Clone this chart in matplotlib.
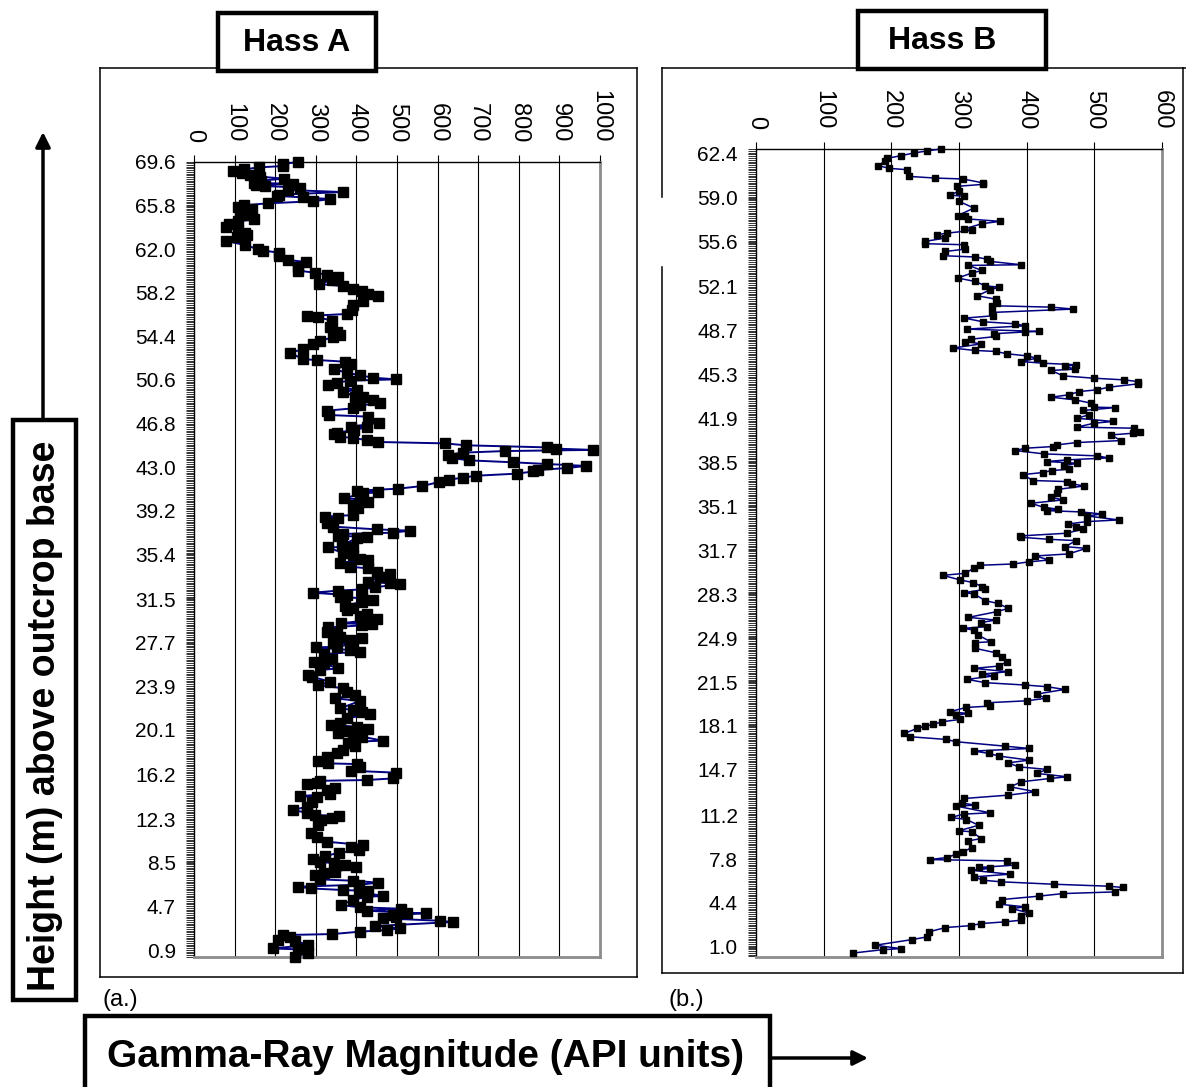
import numpy as np
import matplotlib
matplotlib.use("Agg")
import matplotlib.pyplot as plt
from matplotlib.patches import Rectangle
from matplotlib.ticker import MultipleLocator, FixedLocator

plt.rcParams['font.family'] = ['Liberation Sans', 'DejaVu Sans']

# ---------------- Hass A: height (m) and gamma-ray (API) ----------------
height_a = [
    69.60, 69.43, 69.25, 69.13, 68.96, 68.84, 68.67, 68.50, 68.32, 68.15,
    67.97, 67.80, 67.68, 67.62, 67.51, 67.36, 67.16, 66.98, 66.75, 66.64,
    66.52, 66.37, 66.17, 66.00, 65.82, 65.65, 65.53, 65.30, 65.01, 64.60,
    64.43, 64.19, 63.96, 63.67, 63.38, 63.21, 63.09, 62.71, 62.36, 61.99,
    61.87, 61.70, 61.40, 61.06, 60.88, 60.47, 60.13, 59.95, 59.78, 59.60,
    59.31, 58.96, 58.79, 58.56, 58.32, 58.09, 57.92, 57.51, 57.13, 56.70,
    56.35, 56.17, 56.06, 55.77, 55.24, 54.81, 54.52, 54.31, 54.02, 53.73,
    53.27, 52.98, 52.40, 52.34, 52.19, 51.99, 51.52, 51.23, 51.00, 50.80,
    50.65, 50.54, 50.36, 50.16, 49.72, 49.58, 49.14, 49.08, 48.85, 48.56,
    48.38, 48.12, 47.92, 47.54, 47.40, 46.87, 46.52, 46.47, 46.23, 46.00,
    45.89, 45.65, 45.54, 45.36, 45.19, 45.07, 44.90, 44.72, 44.61, 44.50,
    44.40, 44.26, 44.08, 43.79, 43.59, 43.42, 43.27, 43.10, 42.92, 42.75,
    42.62, 42.43, 42.25, 42.08, 41.90, 41.70, 41.35, 41.12, 40.94, 40.80,
    40.71, 40.28, 40.19, 39.96, 39.70, 39.40, 38.82, 38.68, 38.53, 38.10,
    37.81, 37.57, 37.46, 37.28, 37.17, 36.99, 36.95, 36.79, 36.21, 36.06,
    36.00, 35.48, 35.34, 34.96, 34.90, 34.67, 34.32, 34.17, 33.88, 33.68,
    33.39, 33.01, 32.86, 32.80, 32.52, 32.34, 32.23, 32.05, 31.85, 31.70,
    31.56, 31.41, 31.27, 30.89, 30.68, 30.54, 30.19, 30.02, 29.73, 29.38,
    29.32, 29.20, 29.03, 28.65, 28.51, 28.22, 28.07, 27.92, 27.69, 27.58,
    27.34, 27.28, 27.05, 26.91, 26.70, 26.24, 26.04, 25.89, 25.45, 25.31,
    24.87, 24.73, 24.29, 24.00, 23.71, 23.42, 23.13, 22.84, 22.61, 21.97,
    21.82, 21.68, 21.47, 21.09, 20.72, 20.51, 20.37, 20.13, 20.02, 19.84,
    19.64, 19.50, 19.15, 19.06, 18.91, 18.68, 18.33, 18.10, 17.75, 17.40,
    17.17, 17.11, 16.82, 16.53, 16.36, 15.86, 15.72, 15.65, 15.43, 15.37,
    14.99, 14.85, 14.50, 14.32, 14.21, 13.83, 13.39, 13.10, 12.87, 12.67,
    12.58, 12.37, 12.23, 11.79, 11.13, 10.78, 10.34, 10.05, 9.90, 9.61,
    9.38, 9.09, 8.80, 8.60, 8.45, 8.31, 8.10, 7.73, 7.64, 7.43,
    7.06, 6.94, 6.77, 6.59, 6.42, 6.27, 6.13, 6.05, 5.98, 5.60,
    5.55, 5.26, 4.82, 4.62, 4.50, 4.33, 4.15, 4.10, 3.95, 3.80,
    3.66, 3.45, 3.34, 2.99, 2.79, 2.64, 2.50, 2.29, 2.20, 2.06,
    1.77, 1.70, 1.33, 1.04, 0.95, 0.66, 0.31,
]
gamma_a = [
    257, 220, 220, 159, 124, 95, 117, 139, 163, 222,
    165, 148, 243, 153, 174, 261, 232, 366, 210, 204,
    268, 336, 292, 183, 122, 109, 143, 113, 130, 149,
    109, 85, 79, 109, 126, 130, 105, 80, 126, 158,
    171, 210, 210, 232, 276, 257, 257, 297, 327, 355,
    339, 309, 366, 392, 413, 429, 454, 417, 392, 388,
    376, 278, 306, 339, 335, 351, 360, 343, 310, 294,
    269, 236, 269, 302, 372, 386, 346, 376, 409, 440,
    498, 384, 351, 331, 401, 368, 397, 417, 442, 458,
    409, 391, 327, 333, 429, 456, 386, 425, 394, 351,
    345, 360, 391, 425, 454, 617, 670, 869, 892, 982,
    766, 662, 626, 635, 677, 785, 869, 966, 918, 848,
    836, 795, 695, 662, 627, 604, 562, 503, 401, 454,
    417, 369, 409, 429, 392, 405, 392, 323, 355, 327,
    343, 450, 532, 489, 366, 355, 425, 401, 364, 392,
    331, 368, 392, 409, 429, 360, 384, 429, 450, 483,
    458, 429, 483, 507, 446, 415, 355, 292, 376, 360,
    413, 440, 413, 372, 392, 376, 425, 409, 450, 361,
    438, 415, 331, 327, 351, 360, 413, 384, 343, 392,
    351, 300, 384, 409, 319, 339, 296, 319, 355, 310,
    282, 290, 335, 306, 368, 376, 397, 347, 409, 360,
    392, 413, 433, 376, 360, 337, 401, 429, 376, 355,
    401, 413, 465, 392, 380, 397, 368, 351, 327, 306,
    331, 401, 409, 386, 498, 491, 425, 310, 302, 278,
    347, 327, 335, 261, 302, 290, 278, 243, 278, 298,
    358, 339, 314, 306, 287, 302, 327, 417, 386, 407,
    358, 323, 292, 310, 345, 372, 399, 347, 319, 298,
    310, 391, 454, 407, 257, 287, 366, 429, 407, 466,
    425, 392, 361, 409, 511, 425, 524, 571, 491, 498,
    465, 606, 637, 446, 507, 475, 409, 341, 218, 236,
    208, 249, 282, 194, 257, 282, 249,
]

# ---------------- Hass B: height (m) and gamma-ray (API) ----------------
height_b = [
    62.76, 62.61, 62.45, 62.24, 62.04, 61.80, 61.47, 61.26, 61.16, 60.64,
    60.51, 60.44, 60.13, 60.02, 59.87, 59.48, 59.20, 59.09, 58.71, 58.19,
    57.60, 57.54, 57.34, 57.16, 56.98, 56.56, 56.46, 56.25, 56.12, 55.87,
    55.61, 55.43, 55.35, 55.01, 54.83, 54.50, 54.40, 54.24, 54.06, 53.80,
    53.75, 53.36, 53.16, 52.77, 52.51, 52.17, 52.07, 51.86, 51.40, 51.14,
    50.83, 50.63, 50.52, 50.37, 50.11, 49.85, 49.67, 49.39, 49.23, 49.08,
    48.82, 48.64, 48.60, 48.46, 48.25, 48.04, 47.86, 47.68, 47.35, 47.17,
    47.09, 46.91, 46.75, 46.57, 46.31, 46.18, 46.06, 45.93, 45.72, 45.62,
    45.20, 45.02, 44.89, 44.76, 44.58, 44.32, 44.12, 43.99, 43.73, 43.55,
    43.34, 43.09, 42.78, 42.74, 42.52, 42.18, 41.92, 41.67, 41.54, 41.23,
    41.15, 40.89, 40.76, 40.63, 40.19, 40.04, 39.86, 39.73, 39.60, 39.42,
    39.16, 39.01, 38.85, 38.70, 38.57, 38.44, 38.23, 37.97, 37.87, 37.72,
    37.56, 37.10, 37.02, 36.84, 36.68, 36.42, 36.11, 35.80, 35.60, 35.34,
    35.03, 34.88, 34.77, 34.67, 34.51, 34.36, 34.05, 33.92, 33.74, 33.53,
    33.33, 33.02, 32.81, 32.71, 32.55, 32.45, 31.98, 31.85, 31.42, 31.26,
    30.95, 30.80, 30.64, 30.54, 30.31, 29.92, 29.76, 29.40, 29.20, 28.89,
    28.68, 28.42, 28.32, 27.80, 27.59, 27.21, 26.95, 26.51, 26.30, 26.10,
    25.79, 25.66, 25.53, 25.14, 24.62, 24.55, 24.11, 23.77, 23.46, 23.08,
    22.74, 22.56, 22.30, 22.12, 21.97, 21.71, 21.45, 21.27, 21.14, 20.93,
    20.57, 20.24, 20.05, 19.90, 19.64, 19.54, 19.20, 19.07, 18.94, 18.61,
    18.43, 18.22, 18.09, 17.91, 17.52, 17.27, 17.06, 16.88, 16.54, 16.36,
    16.16, 15.98, 15.77, 15.46, 15.25, 14.94, 14.74, 14.43, 14.17, 14.04,
    13.78, 13.39, 13.01, 12.75, 12.49, 12.15, 11.97, 11.90, 11.38, 11.28,
    11.02, 10.86, 10.42, 9.99, 9.91, 9.39, 9.21, 8.69, 8.36, 8.18,
    7.92, 7.76, 7.66, 7.33, 7.15, 7.07, 6.94, 6.63, 6.42, 6.16,
    6.04, 5.85, 5.70, 5.60, 5.26, 5.13, 4.93, 4.67, 4.31, 4.10,
    3.97, 3.63, 3.38, 3.07, 2.94, 2.81, 2.65, 2.50, 2.16, 1.77,
    1.57, 1.13, 0.87, 0.79, 0.53,
]
gamma_b = [
    273, 253, 233, 214, 194, 190, 181, 197, 223, 226,
    265, 306, 336, 335, 297, 300, 286, 308, 300, 322,
    298, 309, 314, 361, 334, 307, 319, 283, 267, 280,
    250, 250, 307, 309, 280, 277, 324, 341, 346, 392,
    314, 334, 319, 298, 324, 339, 359, 346, 327, 354,
    356, 349, 436, 469, 349, 350, 308, 335, 383, 398,
    312, 418, 398, 351, 355, 318, 309, 333, 291, 323,
    354, 371, 400, 415, 392, 424, 473, 456, 472, 436,
    454, 499, 544, 564, 564, 521, 504, 478, 462, 436,
    472, 495, 499, 530, 483, 492, 474, 528, 500, 474,
    558, 568, 557, 525, 539, 474, 445, 439, 398, 383,
    426, 504, 521, 460, 430, 474, 455, 462, 437, 424,
    395, 409, 459, 467, 485, 447, 445, 436, 454, 406,
    425, 447, 430, 480, 511, 489, 536, 489, 461, 473,
    483, 459, 390, 391, 433, 473, 457, 488, 462, 413,
    433, 403, 380, 331, 322, 309, 276, 302, 321, 334,
    339, 308, 322, 339, 357, 373, 356, 314, 354, 332,
    342, 306, 322, 328, 347, 324, 324, 354, 364, 371,
    359, 322, 373, 334, 351, 312, 339, 398, 430, 456,
    415, 428, 400, 342, 346, 311, 286, 314, 295, 302,
    275, 262, 250, 238, 219, 227, 281, 296, 368, 404,
    322, 344, 359, 404, 373, 388, 430, 415, 460, 435,
    392, 376, 413, 373, 308, 304, 324, 296, 346, 307,
    288, 311, 329, 300, 319, 333, 314, 319, 306, 296,
    282, 257, 371, 383, 329, 346, 317, 375, 322, 336,
    362, 441, 521, 542, 531, 454, 418, 364, 359, 398,
    378, 403, 391, 392, 368, 333, 318, 280, 255, 252,
    231, 176, 214, 188, 144,
]

# Labelled heights on each category axis
ticks_a = [69.6, 65.8, 62.0, 58.2, 54.4, 50.6, 46.8, 43.0, 39.2, 35.4,
           31.5, 27.7, 23.9, 20.1, 16.2, 12.3, 8.5, 4.7, 0.9]
ticks_b = [62.4, 59.0, 55.6, 52.1, 48.7, 45.3, 41.9, 38.5, 35.1, 31.7,
           28.3, 24.9, 21.5, 18.1, 14.7, 11.2, 7.8, 4.4, 1.0]

W, H = 1186, 1087
fig = plt.figure(figsize=(W / 100, H / 100), dpi=100)
fig.patch.set_facecolor('white')

# Page-level overlay in pixel units (y downward) for frames, boxes and arrows
bg = fig.add_axes([0, 0, 1, 1], zorder=0)
bg.set_xlim(0, W)
bg.set_ylim(H, 0)
bg.axis('off')


def frac(x0, y0, x1, y1):
    return [x0 / W, 1 - y1 / H, (x1 - x0) / W, (y1 - y0) / H]


def style_panel(ax, xmax, xstep, ylo, yhi, yticks, minor_step, ms, lw,
                heights, values):
    ax.plot(values, heights, color='#000080', lw=lw, marker='s', ms=ms,
            mfc='black', mec='black', clip_on=False, zorder=3)
    ax.set_xlim(0, xmax)
    ax.set_ylim(ylo, yhi)
    ax.xaxis.tick_top()
    ax.set_xticks(np.arange(0, xmax + 1, xstep))
    ax.set_xticklabels([str(v) for v in range(0, xmax + 1, xstep)],
                       rotation=270, fontsize=17, va='bottom', ha='center')
    ax.tick_params(axis='x', direction='out', length=5, width=0.8,
                   pad=9, colors='black')
    ax.yaxis.set_major_locator(FixedLocator(yticks))
    ax.set_yticklabels([f"{t:.1f}" for t in yticks], fontsize=15)
    ax.yaxis.set_minor_locator(MultipleLocator(minor_step))
    ax.tick_params(axis='y', which='both', direction='out', length=6,
                   width=0.7, pad=7, color='#333333')
    for v in range(xstep, xmax, xstep):
        ax.axvline(v, color='black', lw=0.8, zorder=1)
    ax.spines['top'].set_color('black')
    ax.spines['top'].set_linewidth(1.0)
    ax.spines['left'].set_color('black')
    ax.spines['left'].set_linewidth(1.0)
    for s in ('right', 'bottom'):
        ax.spines[s].set_color('#8c8c8c')
        ax.spines[s].set_linewidth(2.0)


ax_a = fig.add_axes(frac(194, 162, 600, 957), zorder=2)
style_panel(ax_a, 1000, 100, 0.29, 69.6, ticks_a, 0.1524, 6.5, 1.4,
            height_a, gamma_a)

ax_b = fig.add_axes(frac(756, 149, 1162, 957), zorder=2)
style_panel(ax_b, 600, 100, 0.22, 62.76, ticks_b, 0.1364, 4.6, 1.1,
            height_b, gamma_b)

# Panel frames
k = dict(color='black', lw=1.1, zorder=1)
bg.plot([100, 218], [68, 68], **k)
bg.plot([376, 637], [68, 68], **k)
bg.plot([100, 100], [68, 977], **k)
bg.plot([637, 637], [68, 977], **k)
bg.plot([100, 637], [977, 977], **k)

bg.plot([662, 858], [68, 68], **k)
bg.plot([1046, 1186], [68, 68], **k)
bg.plot([662, 662], [68, 197], **k)
bg.plot([662, 662], [267, 973], **k)
bg.plot([662, 1183], [973, 973], **k)
bg.plot([1183, 1183], [68, 973], **k)

# Title boxes
for (x0, y0, w, h, label, tx) in [(218, 13, 158, 58, 'Hass A', 297),
                                  (858, 11, 188, 58, 'Hass B', 942)]:
    bg.add_patch(Rectangle((x0, y0), w, h, facecolor='white',
                           edgecolor='black', lw=3.2, zorder=3))
    bg.text(tx, y0 + h / 2 + 1, label, fontsize=23,
            fontweight='bold', ha='center', va='center', zorder=4)

# Vertical axis title box and arrow
bg.add_patch(Rectangle((13, 420), 63, 580, facecolor='white',
                       edgecolor='black', lw=3.2, zorder=3))
bg.text(45, 716, 'Height (m) above outcrop base', rotation=90,
        fontsize=27, fontweight='bold', ha='center', va='center', zorder=4)
bg.annotate('', xy=(43, 132), xytext=(43, 420),
            arrowprops=dict(arrowstyle='-|>', lw=2.5, color='black',
                            mutation_scale=22, shrinkA=0, shrinkB=0))

# Horizontal axis title box and arrow
bg.add_patch(Rectangle((85, 1016), 685, 90, facecolor='white',
                       edgecolor='black', lw=3.2, zorder=3, clip_on=False))
bg.text(107, 1057, 'Gamma-Ray Magnitude (API units)', fontsize=28,
        fontweight='bold', ha='left', va='center', zorder=4)
bg.annotate('', xy=(868, 1058), xytext=(770, 1058),
            arrowprops=dict(arrowstyle='-|>', lw=2.5, color='black',
                            mutation_scale=22, shrinkA=0, shrinkB=0))

# Panel letters
bg.text(103, 1000, '(a.)', fontsize=17, ha='left', va='center')
bg.text(668, 1000, '(b.)', fontsize=17, ha='left', va='center')

fig.savefig('out.png', dpi=100, facecolor='white')
